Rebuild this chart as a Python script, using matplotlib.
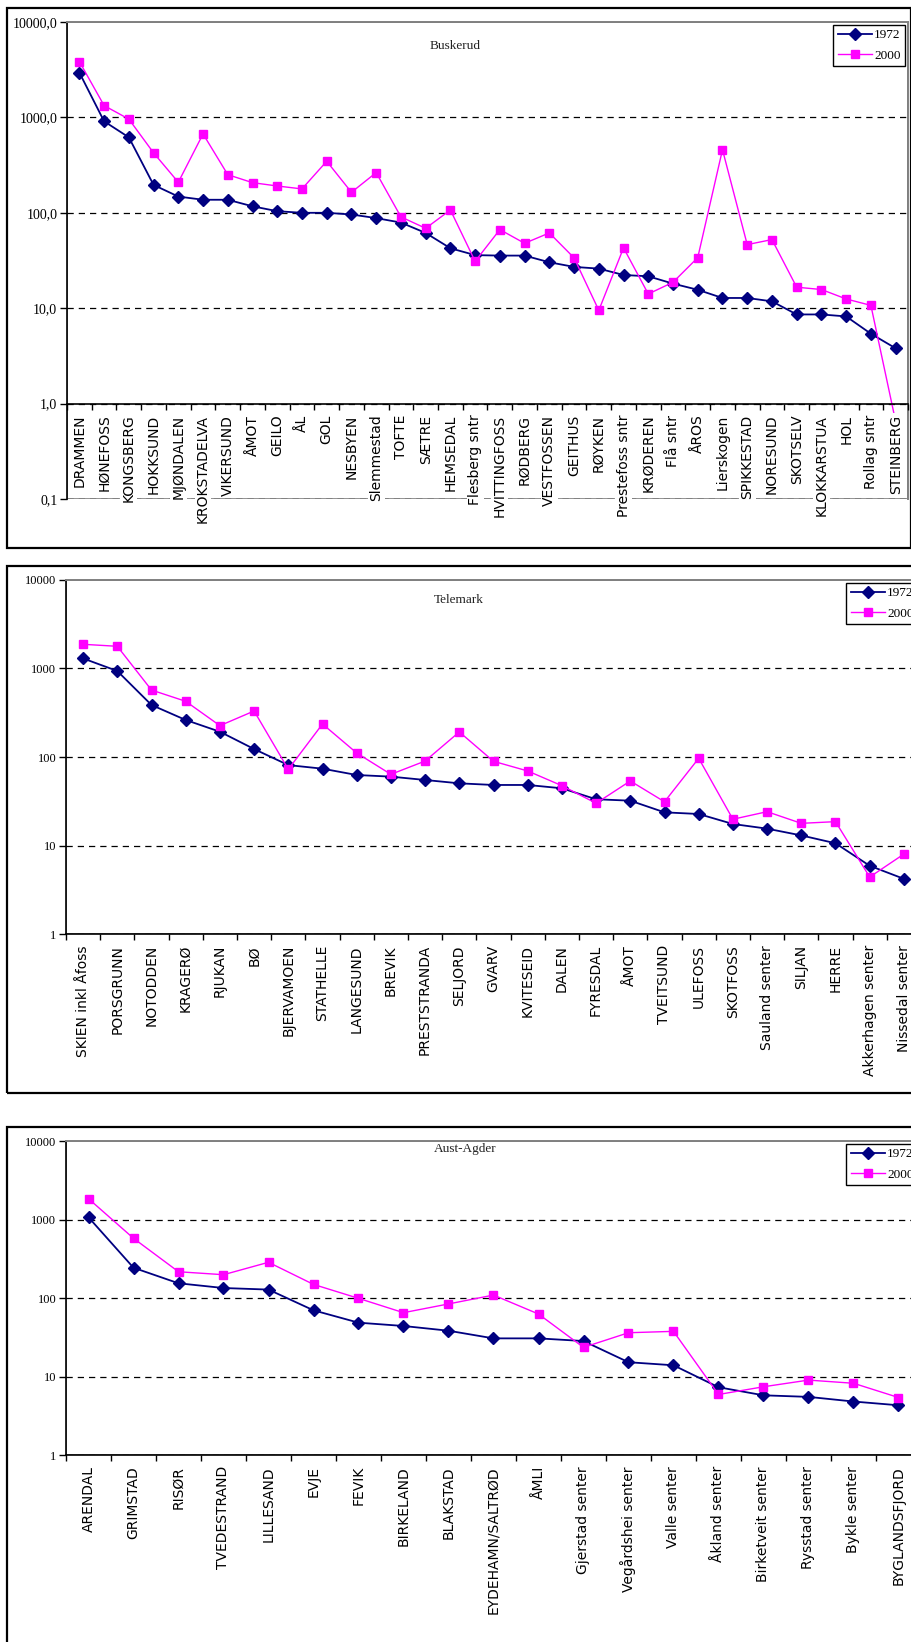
import numpy as np
import matplotlib
matplotlib.use("Agg")
import matplotlib.pyplot as plt
from matplotlib.patches import Rectangle
from matplotlib.ticker import FixedLocator, FixedFormatter, NullLocator

W, H, DPI = 912, 1642, 100

NAVY = "#000080"
MAGENTA = "#FF00FF"
BORDER = "#808080"
SERIF = ["Liberation Serif", "DejaVu Serif"]
SANS = ["Liberation Sans", "DejaVu Sans"]

series_names = ["1972", "2000"]

# --- Buskerud -------------------------------------------------------------
busk_places = ["DRAMMEN", "HØNEFOSS", "KONGSBERG", "HOKKSUND", "MJØNDALEN",
               "KROKSTADELVA", "VIKERSUND", "ÅMOT", "GEILO", "ÅL", "GOL",
               "NESBYEN", "Slemmestad", "TOFTE", "SÆTRE", "HEMSEDAL",
               "Flesberg sntr", "HVITTINGFOSS", "RØDBERG", "VESTFOSSEN",
               "GEITHUS", "RØYKEN", "Prestefoss sntr", "KRØDEREN", "Flå sntr",
               "ÅROS", "Lierskogen", "SPIKKESTAD", "NORESUND", "SKOTSELV",
               "KLOKKARSTUA", "HOL", "Rollag sntr", "STEINBERG"]
busk_1972 = [2950, 910, 618, 196, 148, 137, 137, 117, 104, 100,
             100, 96, 88, 79, 61.5, 42.5, 36, 35.6, 35.6, 30.3,
             27.1, 26, 22.3, 21.6, 18.1, 15.6, 12.8, 12.8, 11.8, 8.6,
             8.6, 8.2, 5.4, 3.8]
busk_2000 = [3850, 1330, 960, 425, 209, 671, 251, 207, 191, 178,
             347, 164, 264, 90.6, 68.8, 107, 31, 66.7, 47.9, 61.5,
             33.7, 9.5, 42.9, 14.1, 18.7, 33.9, 459, 46.4, 52.4, 16.6,
             15.7, 12.5, 10.7, 0.65]
busk_yticks = [0.1, 1, 10, 100, 1000, 10000]
busk_yticklabels = ["0,1", "1,0", "10,0", "100,0", "1000,0", "10000,0"]

# --- Telemark -------------------------------------------------------------
tele_places = ["SKIEN inkl Åfoss", "PORSGRUNN", "NOTODDEN", "KRAGERØ", "RJUKAN",
               "BØ", "BJERVAMOEN", "STATHELLE", "LANGESUND", "BREVIK",
               "PRESTSTRANDA", "SELJORD", "GVARV", "KVITESEID", "DALEN",
               "FYRESDAL", "ÅMOT", "TVEITSUND", "ULEFOSS", "SKOTFOSS",
               "Sauland senter", "SILJAN", "HERRE", "Akkerhagen senter",
               "Nissedal senter"]
tele_1972 = [1300, 937, 387, 262, 193, 123, 81, 73.8, 62.6, 60,
             55, 50.4, 48.3, 48.3, 44.3, 33.3, 32.1, 23.7, 22.7, 17.5,
             15.5, 13.0, 10.6, 5.9, 4.2]
tele_2000 = [1877, 1782, 571, 426, 226, 331, 72.6, 236, 111, 63.7,
             90, 192, 89.4, 69.5, 47.4, 30, 53.6, 31.2, 96.7, 19.8,
             24.1, 17.8, 18.6, 4.4, 8.0]

# --- Aust-Agder -----------------------------------------------------------
agder_places = ["ARENDAL", "GRIMSTAD", "RISØR", "TVEDESTRAND", "LILLESAND",
                "EVJE", "FEVIK", "BIRKELAND", "BLAKSTAD", "EYDEHAMN/SALTRØD",
                "ÅMLI", "Gjerstad senter", "Vegårdshei senter", "Valle senter",
                "Åkland senter", "Birketveit senter", "Rysstad senter",
                "Bykle senter", "BYGLANDSFJORD"]
agder_1972 = [1067, 243, 154, 134, 128, 69.7, 48.5, 44, 38.3, 30.6,
              30.6, 28.3, 15.2, 13.9, 7.3, 5.76, 5.5, 4.8, 4.3]
agder_2000 = [1841, 576, 216, 198, 285, 149, 99, 65, 84, 109,
              62.5, 23.5, 36.1, 37.6, 5.9, 7.4, 9.0, 8.2, 5.4]

decade_ticks = [1, 10, 100, 1000, 10000]
decade_labels = ["1", "10", "100", "1000", "10000"]


def px_box(left, top, right, bottom):
    """Pixel box (y measured from the top) -> figure-fraction rectangle."""
    return [left / W, 1 - bottom / H, (right - left) / W, (bottom - top) / H]


def draw_panel(fig, frame, plot, title, title_xy, places, v72, v00,
               yticks, ylabels, cross, ysize, xsize, label_bg=False):
    # outer chart frame
    fl, ft, fr, fb = px_box(*frame)
    fig.patches.append(Rectangle((fl, ft), fr, fb, transform=fig.transFigure,
                                 fill=False, edgecolor="black", linewidth=1.6,
                                 zorder=0))
    fig.text(title_xy[0] / W, 1 - title_xy[1] / H, title, ha="center",
             va="center", family=SERIF, fontsize=9.5, color="#222222")

    ax = fig.add_axes(px_box(*plot))
    x = np.arange(len(places))
    ax.plot(x, v72, color=NAVY, lw=1.3, marker="D", ms=6.2, mfc=NAVY,
            mec=NAVY, label=series_names[0], zorder=2)
    ax.plot(x, v00, color=MAGENTA, lw=1.0, marker="s", ms=6.0, mfc=MAGENTA,
            mec=MAGENTA, label=series_names[1], zorder=2.1)

    ax.set_yscale("log")
    ax.set_ylim(yticks[0], yticks[-1])
    ax.set_xlim(-0.5, len(places) - 0.5)
    ax.yaxis.set_major_locator(FixedLocator(yticks))
    ax.yaxis.set_major_formatter(FixedFormatter(ylabels))
    ax.yaxis.set_minor_locator(NullLocator())
    ax.tick_params(axis="y", which="major", direction="out", length=5,
                   width=1, pad=2, labelsize=ysize)
    for lab in ax.get_yticklabels():
        lab.set_family(SERIF)

    ax.yaxis.grid(True, which="major", color="black", linestyle=(0, (5, 4)),
                  linewidth=0.9)
    for tick in ax.yaxis.get_major_ticks():
        if np.isclose(tick.get_loc(), yticks[-1]):
            tick.gridline.set_visible(False)

    # category ticks: labels centred on each category, marks between them
    ax.tick_params(axis="x", which="major", length=0, pad=8,
                   labelrotation=90)
    ax.tick_params(axis="x", which="minor", direction="out", length=4,
                   width=1)
    ax.set_xticks(x)
    ax.set_xticklabels(places, rotation=90, family=SANS, fontsize=xsize)
    ax.set_xticks(np.arange(len(places) + 1) - 0.5, minor=True)

    ax.spines["left"].set_color("black")
    ax.spines["left"].set_linewidth(1.2)
    ax.spines["bottom"].set_position(("data", cross))
    ax.spines["bottom"].set_color("black")
    ax.spines["bottom"].set_linewidth(1.2)
    for side in ("top", "right"):
        ax.spines[side].set_color(BORDER)
        ax.spines[side].set_linewidth(1.4)
    ax.add_patch(Rectangle((0, 0), 1, 1, transform=ax.transAxes, fill=False,
                           edgecolor=BORDER, linewidth=1.2, zorder=1))

    if label_bg:
        ax.xaxis.set_zorder(3)
        for lab in ax.get_xticklabels():
            lab.set_bbox(dict(facecolor="white", edgecolor="none", pad=1.0))

    leg = ax.legend(loc="upper right", bbox_to_anchor=(1.0, 1.0),
                    borderaxespad=0.2, fancybox=False, framealpha=1,
                    edgecolor="black", prop={"family": SERIF, "size": 9.5},
                    handlelength=2.6, handletextpad=0.15, borderpad=0.35,
                    labelspacing=0.6)
    leg.get_frame().set_linewidth(1.0)
    return ax


fig = plt.figure(figsize=(W / DPI, H / DPI), dpi=DPI, facecolor="white")

draw_panel(fig, (7, 8, 911, 548), (67, 22, 908, 499), "Buskerud", (455, 46),
           busk_places, busk_1972, busk_2000, busk_yticks, busk_yticklabels,
           cross=1, ysize=10, xsize=11, label_bg=True)

draw_panel(fig, (7, 566, 940, 1093), (66, 580, 921, 934), "Telemark", (459, 600),
           tele_places, tele_1972, tele_2000, decade_ticks, decade_labels,
           cross=1, ysize=9, xsize=11)

draw_panel(fig, (7, 1127, 940, 1670), (66, 1141, 921, 1455), "Aust-Agder",
           (465, 1149), agder_places, agder_1972, agder_2000, decade_ticks,
           decade_labels, cross=1, ysize=9, xsize=11)

fig.savefig("out.png", dpi=DPI, facecolor="white")
